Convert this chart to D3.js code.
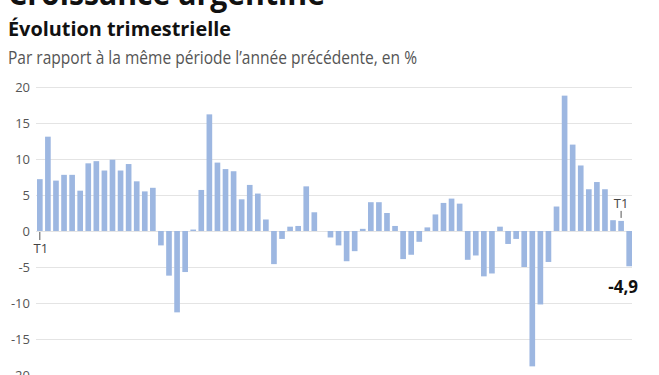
<!DOCTYPE html>
<html lang="fr">
<head>
  <meta charset="UTF-8">
  <title>Croissance argentine</title>
  <script src="https://d3js.org/d3.v7.min.js"></script>
  <style>
    html, body { margin: 0; padding: 0; background: #fff; }
    svg { display: block; font-family: "Open Sans", "Noto Sans", sans-serif; }
  </style>
</head>
<body>
  <div id="chart"></div>
  <script>
    // croissance trimestrielle en glissement annuel, T1 2005 -> T2 2023
    const firstYear = 2005;
    const values = [
      7.2, 13.1, 7.0, 7.8,   7.8, 5.6, 9.4, 9.7,   8.4, 9.9, 8.4, 9.3,
      6.9, 5.5, 6.0, -2.0,   -6.2, -11.3, -5.7, 0.2,   5.7, 16.2, 9.5, 8.6,
      8.3, 4.4, 6.4, 5.2,   1.6, -4.6, -1.1, 0.6,   0.7, 6.2, 2.6, 0.0,
      -0.9, -2.0, -4.2, -2.8,   0.3, 4.0, 4.0, 2.5,   0.7, -3.9, -3.3, -1.5,
      0.5, 2.3, 3.9, 4.5,   3.8, -4.0, -3.4, -6.3,   -5.9, 0.6, -1.8, -1.1,
      -5.0, -18.8, -10.2, -4.3,   3.4, 18.8, 12.0, 9.1,   5.8, 6.8, 5.8, 1.5,
      1.4, -4.9
    ];
    const quarters = values.map((v, i) => `T${i % 4 + 1} ${firstYear + Math.floor(i / 4)}`);
    const yTicks = [20, 15, 10, 5, 0, -5, -10, -15, -20];
    const markedQuarters = ["T1 2005", "T1 2023"];

    const width = 659, height = 375;
    const svg = d3.select("#chart").append("svg")
      .attr("width", width)
      .attr("height", height);

    // titres (compressés à la largeur de l'original)
    function fitText(sel, w) {
      sel.attr("textLength", w).attr("lengthAdjust", "spacingAndGlyphs");
    }
    svg.append("text")
      .attr("x", 8).attr("y", 5)
      .attr("font-size", 32).attr("font-weight", 700).attr("fill", "#111")
      .text("Croissance argentine")
      .call(fitText, 317);
    svg.append("text")
      .attr("x", 8).attr("y", 36)
      .attr("font-size", 19).attr("font-weight", 700).attr("fill", "#111")
      .text("Évolution trimestrielle")
      .call(fitText, 223);
    svg.append("text")
      .attr("x", 8).attr("y", 64)
      .attr("font-size", 17.5).attr("font-weight", 400).attr("fill", "#555")
      .text("Par rapport à la même période l’année précédente, en %")
      .call(fitText, 409);

    const x = d3.scaleBand()
      .domain(quarters)
      .range([37, 632])
      .paddingInner(0.3)
      .paddingOuter(0);

    const y = d3.scaleLinear()
      .domain([-20, 20])
      .range([375, 87]);

    // grille
    svg.append("g")
      .selectAll("line")
      .data(yTicks)
      .join("line")
      .attr("x1", 36).attr("x2", 632)
      .attr("y1", d => Math.round(y(d)) + 0.5)
      .attr("y2", d => Math.round(y(d)) + 0.5)
      .attr("stroke", "#e4e4e4")
      .attr("stroke-width", 1);

    const yAxis = svg.append("g")
      .attr("transform", "translate(30,0)")
      .call(d3.axisLeft(y).tickValues(yTicks).tickSize(0).tickPadding(0)
        .tickFormat(d => String(d)));
    yAxis.select(".domain").remove();
    yAxis.selectAll("text")
      .attr("font-family", "'Open Sans', sans-serif")
      .attr("font-size", 13)
      .attr("fill", "#555");

    // barres
    svg.append("g")
      .selectAll("rect")
      .data(values)
      .join("rect")
      .attr("x", (d, i) => x(quarters[i]))
      .attr("width", x.bandwidth())
      .attr("y", d => y(Math.max(0, d)))
      .attr("height", d => Math.abs(y(d) - y(0)))
      .attr("fill", "#9db7e1");

    // repères T1
    const firstMark = x(markedQuarters[0]) + x.bandwidth() / 2;
    svg.append("line")
      .attr("x1", firstMark).attr("x2", firstMark)
      .attr("y1", y(0) + 1).attr("y2", y(0) + 9)
      .attr("stroke", "#555");
    svg.append("text")
      .attr("x", firstMark + 1).attr("y", y(0) + 22)
      .attr("text-anchor", "middle")
      .attr("font-size", 13).attr("fill", "#444")
      .text("T1");

    const lastMarkIdx = quarters.indexOf(markedQuarters[1]);
    const lastMark = x(markedQuarters[1]) + x.bandwidth() / 2;
    const barTop = y(values[lastMarkIdx]);
    svg.append("line")
      .attr("x1", lastMark).attr("x2", lastMark)
      .attr("y1", barTop - 3).attr("y2", barTop - 10)
      .attr("stroke", "#555");
    svg.append("text")
      .attr("x", lastMark).attr("y", barTop - 13)
      .attr("text-anchor", "middle")
      .attr("font-size", 13).attr("fill", "#444")
      .text("T1");

    // dernière valeur
    const lastVal = values[values.length - 1];
    svg.append("text")
      .attr("x", 638).attr("y", y(lastVal) + 27)
      .attr("text-anchor", "end")
      .attr("font-size", 17).attr("font-weight", 700).attr("fill", "#111")
      .text(String(lastVal).replace(".", ","));
  </script>
</body>
</html>
